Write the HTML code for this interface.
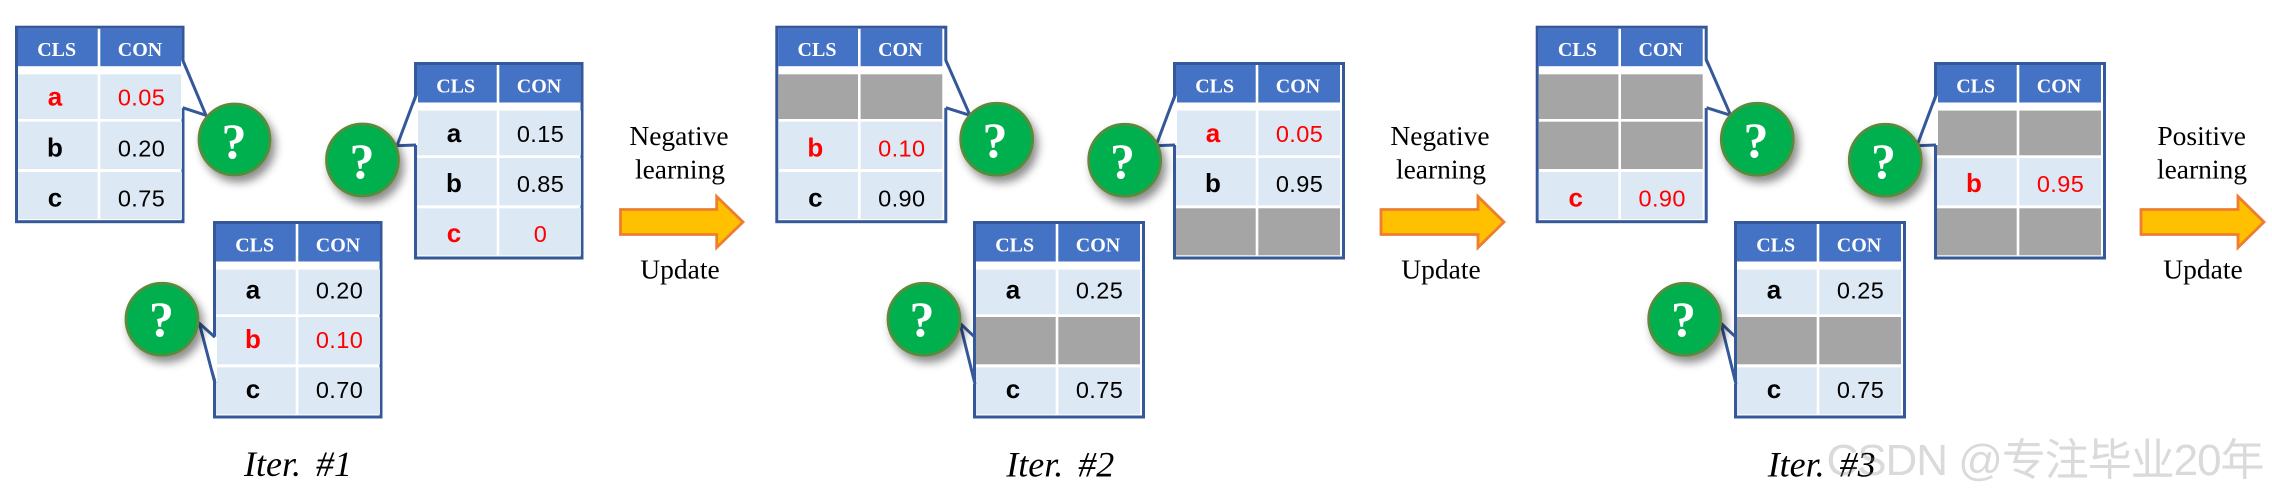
<!DOCTYPE html>
<html>
<head>
<meta charset="utf-8">
<style>
html,body{margin:0;padding:0;background:#fff;width:2272px;height:498px;overflow:hidden}
svg{display:block}
.h{font:bold 20px "Liberation Serif",serif;fill:#fff;text-anchor:middle}
.l{font:bold 26px "Liberation Sans",sans-serif;text-anchor:middle;fill:#000}
.n{font:23.5px "Liberation Sans",sans-serif;text-anchor:middle;fill:#000;letter-spacing:.4px}
.r{fill:#f00}
.q{font:bold 50px "Liberation Serif",serif;fill:#fff;text-anchor:middle}
.t{font:27.5px "Liberation Serif",serif;text-anchor:middle;fill:#000}
.i{font:italic 36px "Liberation Serif",serif;text-anchor:middle;fill:#000;word-spacing:6px}
.w{font:44px "Liberation Sans","Noto Sans CJK SC",sans-serif;fill:#8c8c8c;fill-opacity:.32}
.p{fill:none;stroke:#34589a;stroke-width:3}
.f{fill:#fff}
.c{fill:#00b050;stroke:#5b8a3c;stroke-width:2.8}
.a{fill:#ffc000;stroke:#ed7d31;stroke-width:2.8}
</style>
</head>
<body>
<svg xmlns="http://www.w3.org/2000/svg" width="2272" height="498" viewBox="0 0 2272 498">
<defs>
<filter id="s" x="-30%" y="-30%" width="170%" height="170%"><feDropShadow dx="4" dy="6" stdDeviation="4.5" flood-color="#000" flood-opacity=".45"/></filter>
<g id="f1"><rect x="1.5" y="1.5" width="166.5" height="194.5" fill="#fff" stroke="#34589a" stroke-width="3"/><rect x="3" y="3" width="79.7" height="37.5" fill="#4472c4"/><rect x="85.3" y="3" width="81.7" height="37.5" fill="#4472c4"/></g>
<g id="f2"><rect x="1.5" y="1.5" width="169" height="194.5" fill="#fff" stroke="#34589a" stroke-width="3"/><rect x="3" y="3" width="79.7" height="37.5" fill="#4472c4"/><rect x="85.3" y="3" width="81.7" height="37.5" fill="#4472c4"/></g>
<g id="r1"><rect x="3" y="48.6" width="79.7" height="44.7"/><rect x="85.3" y="48.6" width="81.7" height="44.7"/></g>
<g id="r2"><rect x="3" y="96" width="79.7" height="47.3"/><rect x="85.3" y="96" width="81.7" height="47.3"/></g>
<g id="r3"><rect x="3" y="146.3" width="79.7" height="47"/><rect x="85.3" y="146.3" width="81.7" height="47"/></g>
</defs>

<!-- Iter 1 table A -->
<g transform="translate(15,25.7)">
<use href="#f1"/><use href="#r1" fill="#dde8f5"/><use href="#r2" fill="#dde8f5"/><use href="#r3" fill="#dde8f5"/>
<text class="h" x="41.7" y="30.5">CLS</text><text class="h" x="125" y="30.5">CON</text>
<text class="l r" x="40" y="80">a</text><text class="n r" x="126.5" y="80">0.05</text>
<text class="l" x="40" y="131">b</text><text class="n" x="126.5" y="131">0.20</text>
<text class="l" x="40" y="181">c</text><text class="n" x="126.5" y="181">0.75</text>
</g>
<polygon class="f" points="181,60 206,115.3 181,107.7"/><polyline class="p" points="182.7,60 206,115.3 182.7,107.7"/>
<circle class="c" filter="url(#s)" cx="234.5" cy="139.5" r="35.5"/><text class="q" x="234" y="158">?</text>

<!-- Iter 1 table B -->
<g transform="translate(414,62)">
<use href="#f1"/><use href="#r1" fill="#dde8f5"/><use href="#r2" fill="#dde8f5"/><use href="#r3" fill="#dde8f5"/>
<text class="h" x="41.7" y="30.5">CLS</text><text class="h" x="125" y="30.5">CON</text>
<text class="l" x="40" y="80">a</text><text class="n" x="126.5" y="80">0.15</text>
<text class="l" x="40" y="130">b</text><text class="n" x="126.5" y="130">0.85</text>
<text class="l r" x="40" y="180">c</text><text class="n r" x="126.5" y="180">0</text>
</g>
<polygon class="f" points="418,95 397,145.7 418,145"/><polyline class="p" points="416,95 397,145.7 416,145"/>
<circle class="c" filter="url(#s)" cx="362.5" cy="160" r="36"/><text class="q" x="362" y="178">?</text>

<!-- Iter 1 table C -->
<g transform="translate(213,221)">
<use href="#f1"/><use href="#r1" fill="#dde8f5"/><use href="#r2" fill="#dde8f5"/><use href="#r3" fill="#dde8f5"/>
<text class="h" x="41.7" y="30.5">CLS</text><text class="h" x="125" y="30.5">CON</text>
<text class="l" x="40" y="77.5">a</text><text class="n" x="126.5" y="77.5">0.20</text>
<text class="l r" x="40" y="127">b</text><text class="n r" x="126.5" y="127">0.10</text>
<text class="l" x="40" y="177">c</text><text class="n" x="126.5" y="177">0.70</text>
</g>
<polygon class="f" points="217,337.3 199.3,323.3 217,383.3"/><polyline class="p" points="215,337.3 199.3,323.3 215,383.3"/>
<circle class="c" filter="url(#s)" cx="162" cy="319.3" r="36"/><text class="q" x="161.5" y="336">?</text>

<!-- Iter 1 labels -->
<text class="t" x="679" y="145">Negative</text><text class="t" x="680" y="178.3">learning</text>
<polygon class="a" points="620.5,209.5 716.7,209.5 716.7,196.5 743,222 716.7,247.5 716.7,234.5 620.5,234.5"/>
<text class="t" x="680" y="278.5">Update</text>
<text class="i" x="298" y="476">Iter. #1</text>

<!-- Iter 2 table A -->
<g transform="translate(775.3,25.7)">
<use href="#f2"/><use href="#r1" fill="#a5a5a5"/><use href="#r2" fill="#dde8f5"/><use href="#r3" fill="#dde8f5"/>
<text class="h" x="41.7" y="30.5">CLS</text><text class="h" x="125" y="30.5">CON</text>
<text class="l r" x="40" y="131">b</text><text class="n r" x="126.5" y="131">0.10</text>
<text class="l" x="40" y="181">c</text><text class="n" x="126.5" y="181">0.90</text>
</g>
<polygon class="f" points="944,60 970,115.3 944,107.7"/><polyline class="p" points="945.7,60 970,115.3 945.7,107.7"/>
<circle class="c" filter="url(#s)" cx="996.7" cy="139.3" r="36"/><text class="q" x="995" y="157">?</text>

<!-- Iter 2 table B -->
<g transform="translate(1173,62)">
<use href="#f2"/><use href="#r1" fill="#dde8f5"/><use href="#r2" fill="#dde8f5"/><use href="#r3" fill="#a5a5a5"/>
<text class="h" x="41.7" y="30.5">CLS</text><text class="h" x="125" y="30.5">CON</text>
<text class="l r" x="40" y="80">a</text><text class="n r" x="126.5" y="80">0.05</text>
<text class="l" x="40" y="130">b</text><text class="n" x="126.5" y="130">0.95</text>
</g>
<polygon class="f" points="1177,95 1156,145.7 1177,145"/><polyline class="p" points="1175,95 1156,145.7 1175,145"/>
<circle class="c" filter="url(#s)" cx="1124.7" cy="160.3" r="36"/><text class="q" x="1122.5" y="178">?</text>

<!-- Iter 2 table C -->
<g transform="translate(973,221)">
<use href="#f2"/><use href="#r1" fill="#dde8f5"/><use href="#r2" fill="#a5a5a5"/><use href="#r3" fill="#dde8f5"/>
<text class="h" x="41.7" y="30.5">CLS</text><text class="h" x="125" y="30.5">CON</text>
<text class="l" x="40" y="77.5">a</text><text class="n" x="126.5" y="77.5">0.25</text>
<text class="l" x="40" y="177">c</text><text class="n" x="126.5" y="177">0.75</text>
</g>
<polygon class="f" points="975.5,337.3 960,323.3 975.5,384 973,384 973,337.3"/><polyline class="p" points="975,337.3 960,323.3 975,384"/>
<circle class="c" filter="url(#s)" cx="924" cy="319.3" r="36"/><text class="q" x="922" y="336">?</text>

<!-- Iter 2 labels -->
<text class="t" x="1440" y="145">Negative</text><text class="t" x="1441" y="178.3">learning</text>
<polygon class="a" points="1381,209.5 1478,209.5 1478,196.5 1504,222 1478,247.5 1478,234.5 1381,234.5"/>
<text class="t" x="1441" y="278.5">Update</text>
<text class="i" x="1060.3" y="476.5">Iter. #2</text>

<!-- Iter 3 table A -->
<g transform="translate(1535.7,25.7)">
<use href="#f2"/><use href="#r1" fill="#a5a5a5"/><use href="#r2" fill="#a5a5a5"/><use href="#r3" fill="#dde8f5"/>
<text class="h" x="41.7" y="30.5">CLS</text><text class="h" x="125" y="30.5">CON</text>
<text class="l r" x="40" y="181">c</text><text class="n r" x="126.5" y="181">0.90</text>
</g>
<polygon class="f" points="1704.5,60 1730.7,115.3 1704.5,107.7"/><polyline class="p" points="1706.5,60 1730.7,115.3 1706.5,107.7"/>
<circle class="c" filter="url(#s)" cx="1757.3" cy="139.3" r="36"/><text class="q" x="1756" y="157">?</text>

<!-- Iter 3 table B -->
<g transform="translate(1934,62)">
<use href="#f2"/><use href="#r1" fill="#a5a5a5"/><use href="#r2" fill="#dde8f5"/><use href="#r3" fill="#a5a5a5"/>
<text class="h" x="41.7" y="30.5">CLS</text><text class="h" x="125" y="30.5">CON</text>
<text class="l r" x="40" y="130">b</text><text class="n r" x="126.5" y="130">0.95</text>
</g>
<polygon class="f" points="1938,95 1917,145.7 1938,145"/><polyline class="p" points="1936,95 1917,145.7 1936,145"/>
<circle class="c" filter="url(#s)" cx="1885.3" cy="160.3" r="36"/><text class="q" x="1883.5" y="178">?</text>

<!-- Iter 3 table C -->
<g transform="translate(1734,221)">
<use href="#f2"/><use href="#r1" fill="#dde8f5"/><use href="#r2" fill="#a5a5a5"/><use href="#r3" fill="#dde8f5"/>
<text class="h" x="41.7" y="30.5">CLS</text><text class="h" x="125" y="30.5">CON</text>
<text class="l" x="40" y="77.5">a</text><text class="n" x="126.5" y="77.5">0.25</text>
<text class="l" x="40" y="177">c</text><text class="n" x="126.5" y="177">0.75</text>
</g>
<polygon class="f" points="1736.5,337.3 1721,323.3 1736.5,384 1734,384 1734,337.3"/><polyline class="p" points="1736,337.3 1721,323.3 1736,384"/>
<circle class="c" filter="url(#s)" cx="1684.7" cy="319.3" r="36"/><text class="q" x="1683.5" y="336">?</text>

<!-- Iter 3 labels -->
<text class="t" x="2201.7" y="145">Positive</text><text class="t" x="2202" y="178.3">learning</text>
<polygon class="a" points="2141,209.5 2238,209.5 2238,196.5 2264,222 2238,247.5 2238,234.5 2141,234.5"/>
<text class="t" x="2203" y="278.5">Update</text>
<text class="i" x="1821.7" y="476.5">Iter. #3</text>

<text class="w" x="1826.5" y="475" textLength="438" lengthAdjust="spacing">CSDN @专注毕业20年</text>
</svg>
</body>
</html>
